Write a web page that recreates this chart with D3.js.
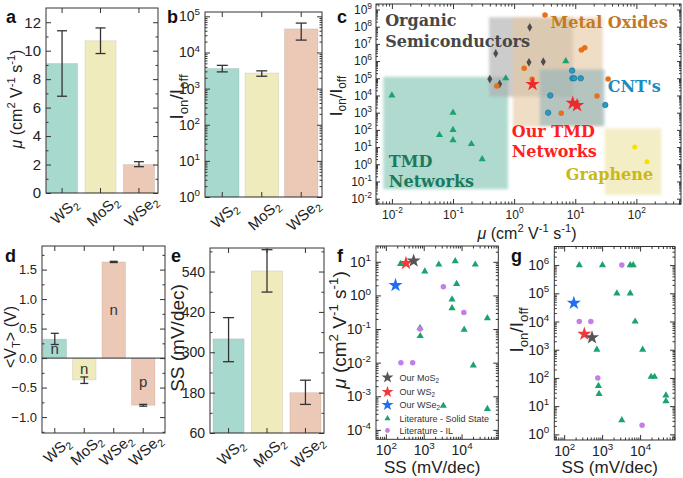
<!DOCTYPE html>
<html><head><meta charset="utf-8">
<script src="https://cdn.jsdelivr.net/npm/d3@7"></script>
<style>body{margin:0;background:#fff} svg{display:block}</style>
</head><body>
<script>
// ---------------- DATA ----------------
const materials = ["WS2", "MoS2", "WSe2"];
const mobility = [9.1, 10.7, 2.0];
const mobilityLo = [6.8, 9.8, 1.85];
const mobilityHi = [11.4, 11.6, 2.2];
const onOff = [3600, 2700, 45000];
const onOffLo = [2900, 2200, 22000];
const onOffHi = [4400, 3100, 65000];
const vtMaterials = ["WS2", "MoS2", "WSe2", "WSe2"];
const vtValues = [0.32, -0.37, 1.63, -0.80];
const vtLo = [0.23, -0.43, 1.62, -0.815];
const vtHi = [0.42, -0.32, 1.64, -0.785];
const vtType = ["n", "n", "n", "p"];
const ssValues = [340, 542, 180];
const ssLo = [272, 479, 145];
const ssHi = [403, 605, 217];

const yTicksA = [0, 2, 4, 6, 8, 10, 12];
const yTicksD = [-1.0, -0.5, 0.0, 0.5, 1.0, 1.5];
const yTicksE = [60, 180, 300, 420, 540];

// panel c: literature benchmark
const organicMu = [0.5, 1.8, 1.75, 3.0, 0.4, 0.58];
const organicOnOff = [2.8e6, 9.2e7, 8.5e5, 9.2e5, 9e4, 4.7e4];
const oxideMu = [3.2, 12.6, 14.3, 1.46, 1.97, 0.52, 34.5, 22.7, 5.9];
const oxideOnOff = [4.8e8, 4.4e6, 6e6, 3.8e5, 8.7e4, 3.6e4, 9e4, 9.3e3, 930];
const cntMu = [8.9, 9.0, 9.6, 12.3, 3.9, 3.6, 31];
const cntOnOff = [2.8e5, 1e5, 1e5, 1e5, 1e4, 1e3, 2.8e3];
const grapheneMu = [94, 149];
const grapheneOnOff = [10, 1.4];
const tmdLitMu = [0.01, 0.1, 0.1, 0.06, 0.1, 0.2, 0.3, 0.73, 7];
const tmdLitOnOff = [1e4, 1e3, 100, 50, 25, 15, 2, 1e5, 1e6];

// regions of panel c (mobility range, on/off range) as log10 values
const regionNames = ["TMD", "Organic", "Oxide", "CNT", "Graphene"];
const regionMuLog = [[-2.14, -0.10], [-0.41, 0.96], [-0.02, 1.45], [0.42, 1.48], [1.48, 2.41]];
const regionOnOffLog = [[-1.45, 5.09], [3.93, 8.55], [2.19, 8.55], [2.23, 5.52], [-1.78, 2.09]];

// panel f & g: literature (SS, mobility), (SS, on/off)
const solidSSf = [245, 1070, 2500, 6800, 23000, 7400, 5600, 5600, 48000, 11700, 800, 810, 20400, 3300, 48000];
const solidMuf = [8.7, 5.2, 8.3, 10.4, 8.3, 2.2, 0.76, 0.42, 0.21, 0.096, 0.107, 0.062, 0.0083, 5.2e-4, 4.2e-4];
const ilSSf = [3300, 11500, 800, 250, 510];
const ilMuf = [1.8, 0.31, 0.1, 0.01, 0.01];
const solidSSg = [250, 1020, 5500, 6600, 2450, 5500, 7400, 725, 11700, 19500, 24000, 800, 830, 48000, 48000, 3300];
const solidOnOffg = [1e6, 1e6, 1e6, 1e6, 1e5, 1e5, 1e4, 1e3, 1e3, 110, 110, 52, 27, 24, 15, 3.2];
const ilSSg = [3300, 250, 505, 770, 11300];
const ilOnOffg = [1e6, 1e4, 1e4, 100, 2.1];

const legendLabels = ["Our MoS2", "Our WS2", "Our WSe2", "Literature - Solid State", "Literature - IL"];

// ---------------- STYLE ----------------
const FONT = '"Liberation Sans", Arial, sans-serif';
const SERIF = '"DejaVu Serif", serif';
const AX = '#333';
const barColor = {WS2: '#a8d9cf', MoS2: '#efebbc', WSe2: '#ecc9b7'};
const starColor = {WS2: '#f03a3a', MoS2: '#555555', WSe2: '#1f6ff0'};
const C_ORG = '#4d4d4d', C_OX = '#e8701a', C_GR = '#f2e200', C_TMD = '#1aa36c', C_IL = '#c47ee6';

const svg = d3.select('body').append('svg').attr('width', 683).attr('height', 478).style('background', '#fff');
const defs = svg.append('defs');
defs.append('filter').attr('id', 'soft').attr('x', '-10%').attr('y', '-10%').attr('width', '120%').attr('height', '120%')
  .append('feGaussianBlur').attr('stdDeviation', 1.6);

// ---------------- HELPERS ----------------
function rich(t, parts) {
  const fs = +t.attr('font-size');
  let shift = 0;
  parts.forEach(([s, m]) => {
    const target = m === 'sup' ? -0.4 : m === 'sub' ? 0.25 : 0;
    const ts = t.append('tspan').text(s);
    const dy = (target - shift) * fs;
    if (dy) ts.attr('dy', dy);
    shift = target;
    if (m === 'sup' || m === 'sub') ts.attr('font-size', fs * 0.7);
    if (m === 'it') ts.attr('font-style', 'italic');
  });
}
function chemParts(name) {
  const m = name.match(/^(.*?)(\d)$/);
  return [[m[1], ''], [m[2], 'sub']];
}
const muParts = [['μ', 'it'], [' (cm', ''], ['2', 'sup'], [' V', ''], ['-1', 'sup'], [' s', ''], ['-1', 'sup'], [')', '']];
const ionParts = [['I', ''], ['on', 'sub'], ['/I', ''], ['off', 'sub']];

function txt(x, y, size, parts, opts = {}) {
  const t = svg.append('text').attr('font-size', size).attr('font-family', opts.family || FONT)
    .attr('fill', opts.fill || '#222').attr('text-anchor', opts.anchor || 'start')
    .attr('font-weight', opts.weight || 'normal');
  if (opts.rotate !== undefined) t.attr('transform', `translate(${x},${y}) rotate(${opts.rotate})`);
  else t.attr('x', x).attr('y', y);
  if (opts.dy) t.attr('dy', opts.dy);
  rich(t, parts);
  return t;
}
function logMinor(scale) {
  const [a, b] = scale.domain();
  const out = [];
  for (let e = Math.floor(Math.log10(a)); e <= Math.ceil(Math.log10(b)); e++)
    for (let m = 2; m <= 9; m++) { const v = m * Math.pow(10, e); if (v > a && v < b) out.push(v); }
  return out;
}
function logMajor(scale) {
  const [a, b] = scale.domain();
  const out = [];
  for (let e = Math.ceil(Math.log10(a) - 1e-9); e <= Math.floor(Math.log10(b) + 1e-9); e++) out.push(Math.pow(10, e));
  return out;
}
function drawAxis(g, scale, orient, pos, o) {
  const fn = {left: d3.axisLeft, right: d3.axisRight, top: d3.axisTop, bottom: d3.axisBottom}[orient];
  const tr = (orient === 'left' || orient === 'right') ? `translate(${pos},0)` : `translate(0,${pos})`;
  if (o.minor && o.minor.length) {
    const mg = g.append('g').attr('transform', tr).call(fn(scale).tickValues(o.minor).tickSize(-(o.minorLen || 2.5)).tickFormat(''));
    mg.select('.domain').remove();
    mg.selectAll('line').attr('stroke', AX);
  }
  const ag = g.append('g').attr('transform', tr)
    .call(fn(scale).tickValues(o.major).tickSize(-(o.len || 5)).tickPadding(o.pad || 5).tickFormat(o.fmt || (() => '')));
  ag.select('.domain').remove();
  ag.selectAll('line').attr('stroke', AX);
  ag.selectAll('text').attr('font-size', o.fontSize || 14).attr('font-family', FONT).attr('fill', '#222');
  if (o.log) {
    ag.selectAll('.tick text').each(function (d) {
      const e = Math.round(Math.log10(d));
      const t = d3.select(this).text(null);
      t.append('tspan').text('10');
      t.append('tspan').attr('font-size', '0.7em').attr('dy', '-0.6em').text(e < 0 ? '-' + (-e) : String(e));
    });
  }
  return ag;
}
function frame(g, x0, y0, x1, y1) {
  g.append('rect').attr('x', x0).attr('y', y0).attr('width', x1 - x0).attr('height', y1 - y0)
    .attr('fill', 'none').attr('stroke', AX).attr('stroke-width', 1);
}

// ---------------- BAR PANELS ----------------
function barPanel(o) {
  const g = svg.append('g');
  const n = o.vals.length;
  const x = d3.scaleBand().domain(d3.range(n)).range(o.band).paddingInner(o.pad);
  const y = o.y;
  const base = o.base;
  g.selectAll('rect.bar').data(o.vals).join('rect').attr('class', 'bar')
    .attr('x', (d, i) => x(i)).attr('width', x.bandwidth())
    .attr('y', d => Math.min(y(d), y(base))).attr('height', d => Math.abs(y(d) - y(base)))
    .attr('fill', (d, i) => barColor[o.cats[i]]).attr('stroke', 'rgba(0,0,0,0.08)').attr('stroke-width', 1);
  if (o.zeroLine) g.append('line').attr('x1', o.x0).attr('x2', o.x1).attr('y1', y(0)).attr('y2', y(0)).attr('stroke', '#555').attr('stroke-width', 1.2);
  const cw = o.cap / 2;
  o.vals.forEach((d, i) => {
    const cx = x(i) + x.bandwidth() / 2;
    const eg = g.append('g').attr('stroke', '#333').attr('stroke-width', 1.3);
    eg.append('line').attr('x1', cx).attr('x2', cx).attr('y1', y(o.lo[i])).attr('y2', y(o.hi[i]));
    eg.append('line').attr('x1', cx - cw).attr('x2', cx + cw).attr('y1', y(o.lo[i])).attr('y2', y(o.lo[i]));
    eg.append('line').attr('x1', cx - cw).attr('x2', cx + cw).attr('y1', y(o.hi[i])).attr('y2', y(o.hi[i]));
  });
  if (o.inLabels) {
    o.vals.forEach((d, i) => {
      const cx = x(i) + x.bandwidth() / 2;
      g.append('text').attr('x', cx).attr('y', (y(d) + y(0)) / 2).attr('dy', '0.35em').attr('text-anchor', 'middle')
        .attr('font-size', 15).attr('font-family', FONT).attr('fill', '#333').text(o.inLabels[i]);
    });
  }
  const yo = o.log ? {major: logMajor(y), minor: logMinor(y), log: true} : {major: o.yTicks, minor: o.yMinor, fmt: o.fmt};
  drawAxis(g, y, 'left', o.x0, Object.assign({fontSize: o.tickFont}, yo));
  drawAxis(g, y, 'right', o.x1, Object.assign({}, yo, {fmt: null, log: false}));
  drawAxis(g, x, 'bottom', o.y1, {major: d3.range(n)});
  drawAxis(g, x, 'top', o.y0, {major: d3.range(n)});
  frame(g, o.x0, o.y0, o.x1, o.y1);
  o.cats.forEach((c, i) => {
    const cx = x(i) + x.bandwidth() / 2 + 2;
    txt(cx, o.y1 + o.labOff, 15, chemParts(c), {anchor: 'middle', rotate: -42, dy: '0.35em'});
  });
  return {x, y};
}

// a
barPanel({x0: 46, x1: 158, y0: 8, y1: 193, band: [46.5, 154.5], pad: 0.19, cats: materials, vals: mobility, lo: mobilityLo, hi: mobilityHi,
  y: d3.scaleLinear().domain([0, 13]).range([193, 8]), base: 0, yTicks: yTicksA, yMinor: [1, 3, 5, 7, 9, 11], fmt: d3.format('d'), tickFont: 15, cap: 10, labOff: 18});
// b
barPanel({x0: 205, x1: 322, y0: 12, y1: 197, band: [205.5, 318], pad: 0.15, cats: materials, vals: onOff, lo: onOffLo, hi: onOffHi,
  y: d3.scaleLog().domain([1, Math.pow(10, 5.12)]).range([197, 12]), base: 1, log: true, tickFont: 14, cap: 11, labOff: 18});
// d
barPanel({x0: 42, x1: 165, y0: 246, y1: 433, band: [43, 155], pad: 0.2, cats: vtMaterials, vals: vtValues, lo: vtLo, hi: vtHi,
  y: d3.scaleLinear().domain([-1.27, 1.9]).range([433, 246]), base: 0, yTicks: yTicksD, yMinor: [-1.25, -0.75, -0.25, 0.25, 0.75, 1.25, 1.75], fmt: d3.format('.1f'),
  tickFont: 13, cap: 8, labOff: 17, zeroLine: true, inLabels: vtType});
// e
barPanel({x0: 210, x1: 324, y0: 248, y1: 433, band: [213, 321], pad: 0.19, cats: materials, vals: ssValues, lo: ssLo, hi: ssHi,
  y: d3.scaleLinear().domain([60, 610]).range([433, 248]), base: 60, yTicks: yTicksE, yMinor: [120, 240, 360, 480, 600], fmt: d3.format('d'), tickFont: 14, cap: 11, labOff: 19});

// titles a,b,d,e
txt(21.5, 99, 16, muParts, {anchor: 'middle', rotate: -90});
txt(183, 97, 19, ionParts, {anchor: 'middle', rotate: -90});
txt(16, 337, 16, [['<V', ''], ['T', 'sub'], ['> (V)', '']], {anchor: 'middle', rotate: -90});
txt(184, 338, 19, [['SS (mV/dec)', '']], {anchor: 'middle', rotate: -90});

// ---------------- PANEL C ----------------
(function () {
  const x0 = 376, x1 = 681, y0 = 4, y1 = 204;
  const g = svg.append('g');
  const x = d3.scaleLog().domain([Math.pow(10, -2.26), Math.pow(10, 2.73)]).range([x0, x1]);
  const y = d3.scaleLog().domain([Math.pow(10, -2.31), Math.pow(10, 9.32)]).range([y1, y0]);
  const regionFill = ['#a2d4c8', '#adadad', '#e4c79e', '#86b0ba', '#f2ebbd'];
  const regionOp = [0.85, 0.62, 0.6, 0.55, 0.85];
  const rg = g.append('g').attr('filter', 'url(#soft)');
  regionNames.forEach((nm, i) => {
    const xa = x(Math.pow(10, regionMuLog[i][0])), xb = x(Math.pow(10, regionMuLog[i][1]));
    const ya = y(Math.pow(10, regionOnOffLog[i][1])), yb = y(Math.pow(10, regionOnOffLog[i][0]));
    rg.append('rect').attr('x', xa).attr('y', ya).attr('width', xb - xa).attr('height', yb - ya)
      .attr('fill', regionFill[i]).attr('fill-opacity', regionOp[i]);
  });
  const pts = (mu, oo, sym, size, fill, stroke) => g.append('g').selectAll('path').data(mu).join('path')
    .attr('transform', (d, i) => `translate(${x(d)},${y(oo[i])})`)
    .attr('d', d3.symbol().type(sym).size(size)).attr('fill', fill).attr('stroke', stroke || 'none').attr('stroke-width', 0.6);
  pts(organicMu, organicOnOff, d3.symbolDiamond, 22, C_ORG);
  pts(oxideMu, oxideOnOff, d3.symbolCircle, 24, C_OX);
  pts(cntMu, cntOnOff, d3.symbolCircle, 24, '#2a9ac4', '#136a8a');
  pts(grapheneMu, grapheneOnOff, d3.symbolCircle, 20, C_GR);
  pts(tmdLitMu, tmdLitOnOff, d3.symbolTriangle, 22, C_TMD);
  pts(mobility, onOff, d3.symbolStar, 64, '#ee2a2a');

  drawAxis(g, x, 'bottom', y1, {major: logMajor(x), minor: logMinor(x), log: true, fontSize: 12, pad: 6});
  drawAxis(g, x, 'top', y0, {major: logMajor(x), minor: logMinor(x)});
  drawAxis(g, y, 'left', x0, {major: logMajor(y), minor: logMinor(y), minorLen: 2, log: true, fontSize: 12, pad: 4, len: 4});
  drawAxis(g, y, 'right', x1, {major: logMajor(y), minor: logMinor(y), minorLen: 2, len: 4});
  frame(g, x0, y0, x1, y1);

  const lab = (s, mu, oo, fill) => g.append('text').attr('x', x(Math.pow(10, mu))).attr('y', y(Math.pow(10, oo)))
    .attr('font-family', SERIF).attr('font-weight', 'bold').attr('font-size', 16).attr('fill', fill).text(s);
  lab('Organic', -2.11, 8.04, '#474747');
  lab('Semiconductors', -2.11, 6.80, '#474747');
  lab('Metal Oxides', 0.595, 7.91, '#c47a1e');
  lab("CNT's", 1.53, 4.22, '#1a8cc0');
  lab('Our TMD', -0.04, 1.60, '#ff1f1f');
  lab('Networks', -0.04, 0.44, '#ff1f1f');
  lab('TMD', -2.05, -0.14, '#1b7a5c');
  lab('Networks', -2.05, -1.30, '#1b7a5c');
  lab('Graphene', 0.845, -0.91, '#c9b818');

  txt(527, 233, 16, muParts, {anchor: 'middle', dy: '0.35em'});
  txt(342, 96, 17, ionParts, {anchor: 'middle', rotate: -90});
})();

// ---------------- PANELS F, G ----------------
function scatterPanel(o) {
  const g = svg.append('g');
  const x = d3.scaleLog().domain(o.xd).range([o.x0, o.x1]);
  const y = d3.scaleLog().domain(o.yd).range([o.y1, o.y0]);
  const pts = (xs, ys, sym, size, fill) => g.append('g').selectAll('path').data(xs).join('path')
    .attr('transform', (d, i) => `translate(${x(d)},${y(ys[i])})`)
    .attr('d', d3.symbol().type(sym).size(size)).attr('fill', fill);
  pts(o.solidX, o.solidY, d3.symbolTriangle, 22, C_TMD);
  pts(o.ilX, o.ilY, d3.symbolCircle, 24, C_IL);
  [0, 2, 1].forEach(i => {
    g.append('path').attr('transform', `translate(${x(ssValues[i])},${y(o.ours[i])})`)
      .attr('d', d3.symbol().type(d3.symbolStar).size(62)).attr('fill', starColor[materials[i]]);
  });
  drawAxis(g, x, 'bottom', o.y1, {major: logMajor(x), minor: logMinor(x), log: true, fontSize: 14, pad: 6});
  drawAxis(g, x, 'top', o.y0, {major: logMajor(x), minor: logMinor(x)});
  drawAxis(g, y, 'left', o.x0, {major: logMajor(y), minor: logMinor(y), log: true, fontSize: 14, pad: 5});
  drawAxis(g, y, 'right', o.x1, {major: logMajor(y), minor: logMinor(y)});
  frame(g, o.x0, o.y0, o.x1, o.y1);
  txt((o.x0 + o.x1) / 2 - 5, 467, 17, [['SS (mV/dec)', '']], {anchor: 'middle', dy: '0.35em'});
  return g;
}
scatterPanel({x0: 376, x1: 498.3, y0: 246, y1: 439.3, xd: [Math.pow(10, 1.74), Math.pow(10, 4.97)], yd: [Math.pow(10, -4.28), Math.pow(10, 1.47)],
  solidX: solidSSf, solidY: solidMuf, ilX: ilSSf, ilY: ilMuf, ours: mobility});
scatterPanel({x0: 554.3, x1: 675, y0: 246.5, y1: 440, xd: [Math.pow(10, 1.74), Math.pow(10, 4.92)], yd: [Math.pow(10, -0.2), Math.pow(10, 6.66)],
  solidX: solidSSg, solidY: solidOnOffg, ilX: ilSSg, ilY: ilOnOffg, ours: onOff});

txt(346, 330, 19, muParts, {anchor: 'middle', rotate: -90});
txt(523, 330, 19, ionParts, {anchor: 'middle', rotate: -90});

// legend in f
(function () {
  const rows = [377.5, 392, 405, 418.5, 430.5];
  const syms = [d3.symbolStar, d3.symbolStar, d3.symbolStar, d3.symbolTriangle, d3.symbolCircle];
  const sizes = [44, 44, 44, 16, 18];
  const cols = [starColor.MoS2, starColor.WS2, starColor.WSe2, C_TMD, C_IL];
  legendLabels.forEach((l, i) => {
    svg.append('path').attr('transform', `translate(387.5,${rows[i]})`).attr('d', d3.symbol().type(syms[i]).size(sizes[i])).attr('fill', cols[i]);
    const parts = i < 3 ? [['Our ', '']].concat(chemParts(l.slice(4))) : [[l, '']];
    txt(399.5, rows[i], 9, parts, {dy: '0.35em', fill: '#333'});
  });
})();

// panel letters
[['a', 6, 23], ['b', 167, 23], ['c', 337, 23], ['d', 5, 262], ['e', 171, 262], ['f', 337, 262], ['g', 511, 262]].forEach(([s, x, y]) => {
  svg.append('text').attr('x', x).attr('y', y).attr('font-family', FONT).attr('font-weight', 'bold').attr('font-size', 18).attr('fill', '#111').text(s);
});
</script>
</body></html>
